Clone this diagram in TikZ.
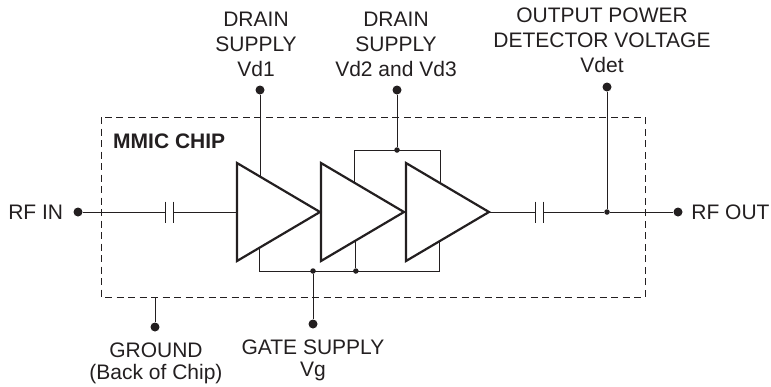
\documentclass[tikz,border=0pt]{standalone}
\usepackage{fontspec}
\setmainfont{Liberation Sans}
\usetikzlibrary{positioning,calc}
\definecolor{ink}{RGB}{35,31,32}
\begin{document}
\begin{tikzpicture}[x=1pt,y=-1pt, color=ink,
    wire/.style={line width=0.9pt},
    amp/.style={line width=2.2pt},
    chip/.style={line width=0.9pt, dash pattern=on 7pt off 4.5pt},
    pin/.style={circle, fill=ink, inner sep=0pt, minimum size=9pt},
    jn/.style={circle, fill=ink, inner sep=0pt, minimum size=5.5pt},
    lbl/.style={align=center, inner sep=0pt, font=\fontsize{21}{25}\selectfont},
    lblb/.style={lbl, font=\fontsize{21}{22}\selectfont}]
  \useasboundingbox (0,0) rectangle (771,386);

  % Chip outline
  \draw[chip] (101,117) rectangle (645,297);
  \node[lbl, font=\fontsize{21}{25}\selectfont\bfseries, anchor=base west] (chiplbl) at (113,148) {MMIC CHIP};

  % The three amplifier stages
  \foreach \n/\x in {1/237, 2/321, 3/406} {
    \coordinate (t\n) at (\x,163);
    \coordinate (b\n) at (\x,261);
    \coordinate (i\n) at (\x,212);
    \coordinate (o\n) at (\x+83,212);
    \draw[amp] (t\n) -- (o\n) -- (b\n) -- cycle;
  }

  % DC blocking capacitors
  \foreach \c/\x in {ca/165, cb/535} {
    \coordinate (\c l) at (\x,212);
    \coordinate (\c r) at (\x+8,212);
    \draw[wire] (\x,201.5) -- (\x,222.5);
    \draw[wire] (\x+8,201.5) -- (\x+8,222.5);
  }

  % RF path
  \node[pin] (rfin) at (78,212) {};
  \node[lbl, left=10pt of rfin] (rfinlbl) {RF IN};
  \node[pin] (rfout) at (678,212) {};
  \node[lbl, right=8.5pt of rfout] (rfoutlbl) {RF OUT};
  \node[jn] (jdet) at (607,212) {};
  \draw[wire] (rfin) -- (cal);
  \draw[wire] (car) -- (i1);
  \draw[wire] (o3) -- (cbl);
  \draw[wire] (cbr) -- (jdet) -- (rfout);

  % Drain supply Vd1
  \node[pin] (vd1) at (260,90) {};
  \coordinate (d1) at ($(t1)!0.28!(o1)$);
  \draw[wire] (vd1) -- (vd1 |- d1);
  \node[lbl, above=8.5pt of vd1, xshift=-4pt] (vd1lbl) {DRAIN\\SUPPLY\\Vd1};

  % Drain supply Vd2 and Vd3
  \node[pin] (vd23) at (397,90) {};
  \node[jn] (j23) at (397,150) {};
  \coordinate (d2) at ($(t2)!0.40!(o2)$);
  \coordinate (d3) at ($(t3)!0.42!(o3)$);
  \draw[wire] (vd23) -- (j23);
  \draw[wire] (d2) -- (d2 |- j23) -- (d3 |- j23) -- (d3);
  \node[lbl, above=8.5pt of vd23, xshift=-1pt] (vd23lbl) {DRAIN\\SUPPLY\\Vd2 and Vd3};

  % Detector voltage Vdet
  \node[pin] (vdet) at (607,87) {};
  \draw[wire] (vdet) -- (jdet);
  \node[lbl, above=9pt of vdet, xshift=-5pt] (vdetlbl) {OUTPUT POWER\\DETECTOR VOLTAGE\\Vdet};

  % Gate supply Vg
  \coordinate (bus) at (0,271);
  \coordinate (g1) at ($(b1)!0.27!(o1)$);
  \coordinate (g2) at ($(b2)!0.42!(o2)$);
  \coordinate (g3) at ($(b3)!0.40!(o3)$);
  \node[jn] (jg2) at (g2 |- bus) {};
  \node[jn] (jvg) at (313,271) {};
  \draw[wire] (g1) -- (g1 |- bus) -- (g3 |- bus) -- (g3);
  \draw[wire] (g2) -- (jg2);
  \node[pin] (vg) at (313,324) {};
  \draw[wire] (jvg) -- (vg);
  \node[lblb, below=11pt of vg] (vglbl) {GATE SUPPLY\\Vg};

  % Ground
  \coordinate (gnd) at (155,297);
  \node[pin] (gndpin) at (155,327) {};
  \draw[wire] (gnd) -- (gndpin);
  \node[lblb, below=11pt of gndpin, xshift=1pt] (gndlbl) {GROUND\\(Back of Chip)};
\end{tikzpicture}
\end{document}
